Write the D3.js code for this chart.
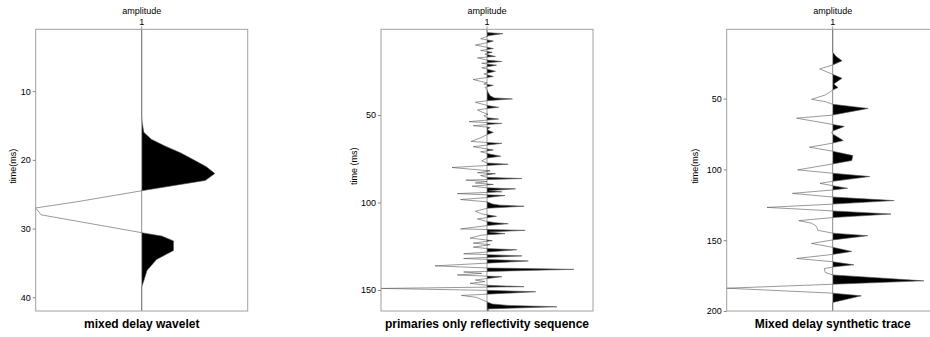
<!DOCTYPE html>
<html>
<head>
<meta charset="utf-8">
<script src="https://cdn.jsdelivr.net/npm/d3@7"></script>
<style>
  body { margin: 0; background: #fff; }
  svg { display: block; font-family: "Liberation Sans", Arial, sans-serif; }
</style>
</head>
<body>
<svg id="chart" width="930" height="337"></svg>
<script>
// mixed delay wavelet (time in ms, amplitude)
const waveletTime = [1, 13.5, 14.5, 16, 17, 18, 19, 20, 21, 22, 23, 24.5, 26.1, 27, 28, 30.6, 31.1, 31.8, 33.2, 34.5, 36.1, 37.6, 38.5, 42];
const waveletAmp  = [0, 0, 0.004, 0.02, 0.09, 0.22, 0.37, 0.49, 0.61, 0.69, 0.60, 0, -0.61, -1.0, -0.95, 0, 0.19, 0.30, 0.30, 0.14, 0.05, 0.02, 0, 0];

// primaries only reflectivity sequence
const reflTime = [1, 2.9, 3.5, 4.6, 6.4, 7.7, 8.7, 10.0, 12.0, 13.1, 14.1, 15.2, 16.5, 17.3, 18.6, 19.4, 20.4, 21.5, 23.0, 25.0,
  26.5, 28.0, 29.7, 31.6, 32.3, 33.0, 34.2, 35.5, 37.0, 39.0, 40.2, 40.8, 41.8, 42.7, 44.5, 45.6, 46.3, 47.1, 48.5, 49.5,
  50.4, 51.5, 52.3, 53.8, 54.8, 56.1, 57.1, 58.3, 59.2, 59.9, 61.2, 63.0, 65.1, 66.2, 68.1, 70.0, 71.0, 72.2, 73.5, 74.6,
  76.2, 77.4, 78.1, 80.0, 81.9, 83.0, 83.5, 84.6, 85.6, 86.3, 87.2, 88.0, 88.8, 89.7, 90.7, 91.6, 92.2, 93.2, 93.9, 94.9,
  96.0, 97.2, 98.3, 99.6, 100.8, 101.5, 102.1, 103.3, 105.0, 106.5, 107.9, 109.4, 110.8, 111.5, 112.1, 113.2, 115.1, 115.9, 116.8, 117.8,
  118.6, 120.3, 121.8, 123.2, 124.1, 125.5, 126.3, 127.0, 129.3, 130.5, 132.0, 133.4, 136.2, 137.4, 138.2, 139.7, 140.5, 141.4, 142.4, 144.3,
  145.2, 146.2, 147.3, 148.1, 149.1, 150.2, 151.0, 153.1, 154.2, 155.5, 156.8, 158.0, 158.8, 159.6, 160.8, 161.5, 162];
const reflAmp = [0, 0, 0.15, 0.02, -0.06, 0.06, 0, -0.11, 0.06, -0.06, 0.05, -0.02, 0.08, -0.09, 0, 0.14, -0.05, 0.09, -0.05, 0.08,
  -0.03, 0.06, -0.13, 0, -0.03, 0.06, -0.02, 0, 0.01, 0.03, 0.07, 0.24, 0, -0.11, 0, 0.11, 0, -0.09, -0.04, 0.01,
  -0.03, 0, 0.11, -0.17, 0.14, -0.13, 0.03, 0, 0.03, 0.06, 0, -0.06, -0.15, 0.14, -0.13, 0.06, -0.06, 0.02, 0.13, 0,
  -0.05, 0, 0.2, -0.33, 0.03, -0.09, 0.08, -0.06, 0, 0.33, -0.2, 0, -0.11, 0.06, -0.14, 0, 0.27, 0.02, 0.14, -0.28,
  0.17, 0, -0.25, 0, 0.05, 0.12, 0.35, 0, -0.11, -0.05, 0.09, -0.09, 0, 0.08, 0.2, 0, -0.25, 0.36, 0.02, 0.17,
  -0.05, -0.16, 0.05, -0.13, 0.03, -0.13, 0, 0.28, -0.22, 0.33, -0.22, 0.39, -0.49, 0, 0.82, -0.22, -0.05, -0.28, 0.14, -0.11,
  -0.02, -0.16, 0, 0.35, -1.0, 0, 0.46, -0.24, -0.1, -0.05, 0, 0.05, 0.2, 0.66, 0, 0.02, 0];

// mixed delay synthetic trace
const synthTime = [1, 17.2, 20, 23.3, 26.2, 29, 32.8, 35.6, 38.5, 39.6, 42.2, 43.9, 45.5, 47.4, 50.5, 52.1, 54, 56.9, 61.6, 63.8,
  68.2, 69.6, 72.9, 74, 75, 79.6, 81.4, 84.3, 87.1, 90.2, 93.7, 96.1, 100.3, 102.7, 105, 108.4, 109.8, 111.5, 113.3, 114.5,
  116.9, 119.5, 122, 124.5, 126.8, 129.3, 131.5, 134, 136.2, 138, 139.7, 141, 143, 145, 146.8, 149.8, 152.3, 155, 157.9, 160,
  162.9, 165.2, 167.4, 168.9, 170, 172.8, 174.5, 178.7, 181.1, 183.9, 187.4, 189.3, 194, 200];
const synthAmp = [0, 0, 0.03, 0.088, 0, -0.123, 0, 0.088, 0.03, 0.01, 0.05, 0, -0.03, -0.07, -0.2, -0.07, 0, 0.335, 0, -0.34,
  0, 0.11, 0, -0.01, 0, 0.1, 0, -0.22, 0, 0.19, 0.18, 0, -0.33, 0, 0.35, 0, -0.12, 0, 0.14, 0,
  -0.38, 0, 0.58, 0, -0.62, 0, 0.55, 0, -0.32, -0.2, -0.16, -0.15, -0.14, 0, 0.33, 0, -0.2, 0, 0.18, 0,
  -0.34, 0, 0.2, 0, -0.08, -0.07, 0, 0.86, 0, -1.0, 0, 0.27, 0, 0];

const panelTitles = ['mixed delay wavelet', 'primaries only reflectivity sequence', 'Mixed delay synthetic trace'];
const yLabels = ['time(ms)', 'time (ms)', 'time(ms)'];
const timeDomains = [[1, 42], [1, 162], [1, 200]];
const timeTicks = [[10, 20, 30, 40], [50, 100, 150], [50, 100, 150, 200]];
const traceLabel = ['1'];

const svg = d3.select('#chart');
const boxLefts = [35.7, 381, 726.7];
const yLabelGap = [20, 24.5, 28.5];
const boxW = 212, boxTop = 29.3, boxBottom = 311;

const series = [
  waveletTime.map((t, i) => ({ t, a: waveletAmp[i] })),
  reflTime.map((t, i) => ({ t, a: reflAmp[i] })),
  synthTime.map((t, i) => ({ t, a: synthAmp[i] }))
];

series.forEach((data, p) => {
  const left = boxLefts[p];
  const x = d3.scaleLinear().domain([-1, 1]).range([left, left + boxW]);
  const y = d3.scaleLinear().domain(timeDomains[p]).range([boxTop, boxBottom]);
  const cx = x(0);
  const g = svg.append('g');

  // positive lobes filled black (variable area)
  const clipId = 'clip' + p;
  svg.append('clipPath').attr('id', clipId)
    .append('rect')
    .attr('x', cx).attr('y', boxTop)
    .attr('width', boxW).attr('height', boxBottom - boxTop);

  const area = d3.area()
    .y(d => y(d.t))
    .x0(cx)
    .x1(d => x(d.a));

  g.append('path')
    .datum(data)
    .attr('clip-path', `url(#${clipId})`)
    .attr('fill', '#000')
    .attr('d', area);

  // zero line / trace axis
  g.append('line')
    .attr('x1', cx).attr('x2', cx)
    .attr('y1', boxTop - 3).attr('y2', boxBottom)
    .attr('stroke', '#888').attr('stroke-width', 0.8);

  // wiggle
  const line = d3.line().y(d => y(d.t)).x(d => x(d.a));
  g.append('path')
    .datum(data)
    .attr('fill', 'none')
    .attr('stroke', '#555')
    .attr('stroke-width', 0.6)
    .attr('d', line);

  // frame
  g.append('rect')
    .attr('x', left).attr('y', boxTop)
    .attr('width', boxW).attr('height', boxBottom - boxTop)
    .attr('fill', 'none')
    .attr('stroke', '#a0a0a0')
    .attr('stroke-width', 1);

  // time axis
  const axis = g.append('g')
    .attr('transform', `translate(${left},0)`)
    .call(d3.axisLeft(y).tickValues(timeTicks[p]).tickSize(3).tickPadding(2));
  axis.select('.domain').remove();
  axis.selectAll('.tick line').attr('stroke', '#888');
  axis.selectAll('.tick text')
    .attr('font-size', 9)
    .attr('font-family', '"Liberation Sans", Arial, sans-serif')
    .attr('fill', '#000');

  // top: trace label and amplitude title
  g.selectAll('.trace-label')
    .data(traceLabel)
    .enter().append('text')
    .attr('x', cx).attr('y', 24.5)
    .attr('text-anchor', 'middle')
    .attr('font-size', 9)
    .text(d => d);

  g.append('text')
    .attr('x', cx).attr('y', 14)
    .attr('text-anchor', 'middle')
    .attr('font-size', 9)
    .text('amplitude');

  g.append('text')
    .attr('transform', `translate(${left - yLabelGap[p]},${(boxTop + boxBottom) / 2 - 4}) rotate(-90)`)
    .attr('text-anchor', 'middle')
    .attr('font-size', 9)
    .text(yLabels[p]);

  g.append('text')
    .attr('x', cx).attr('y', 327.5)
    .attr('text-anchor', 'middle')
    .attr('font-size', 12)
    .attr('font-weight', 'bold')
    .text(panelTitles[p]);
});
</script>
</body>
</html>
